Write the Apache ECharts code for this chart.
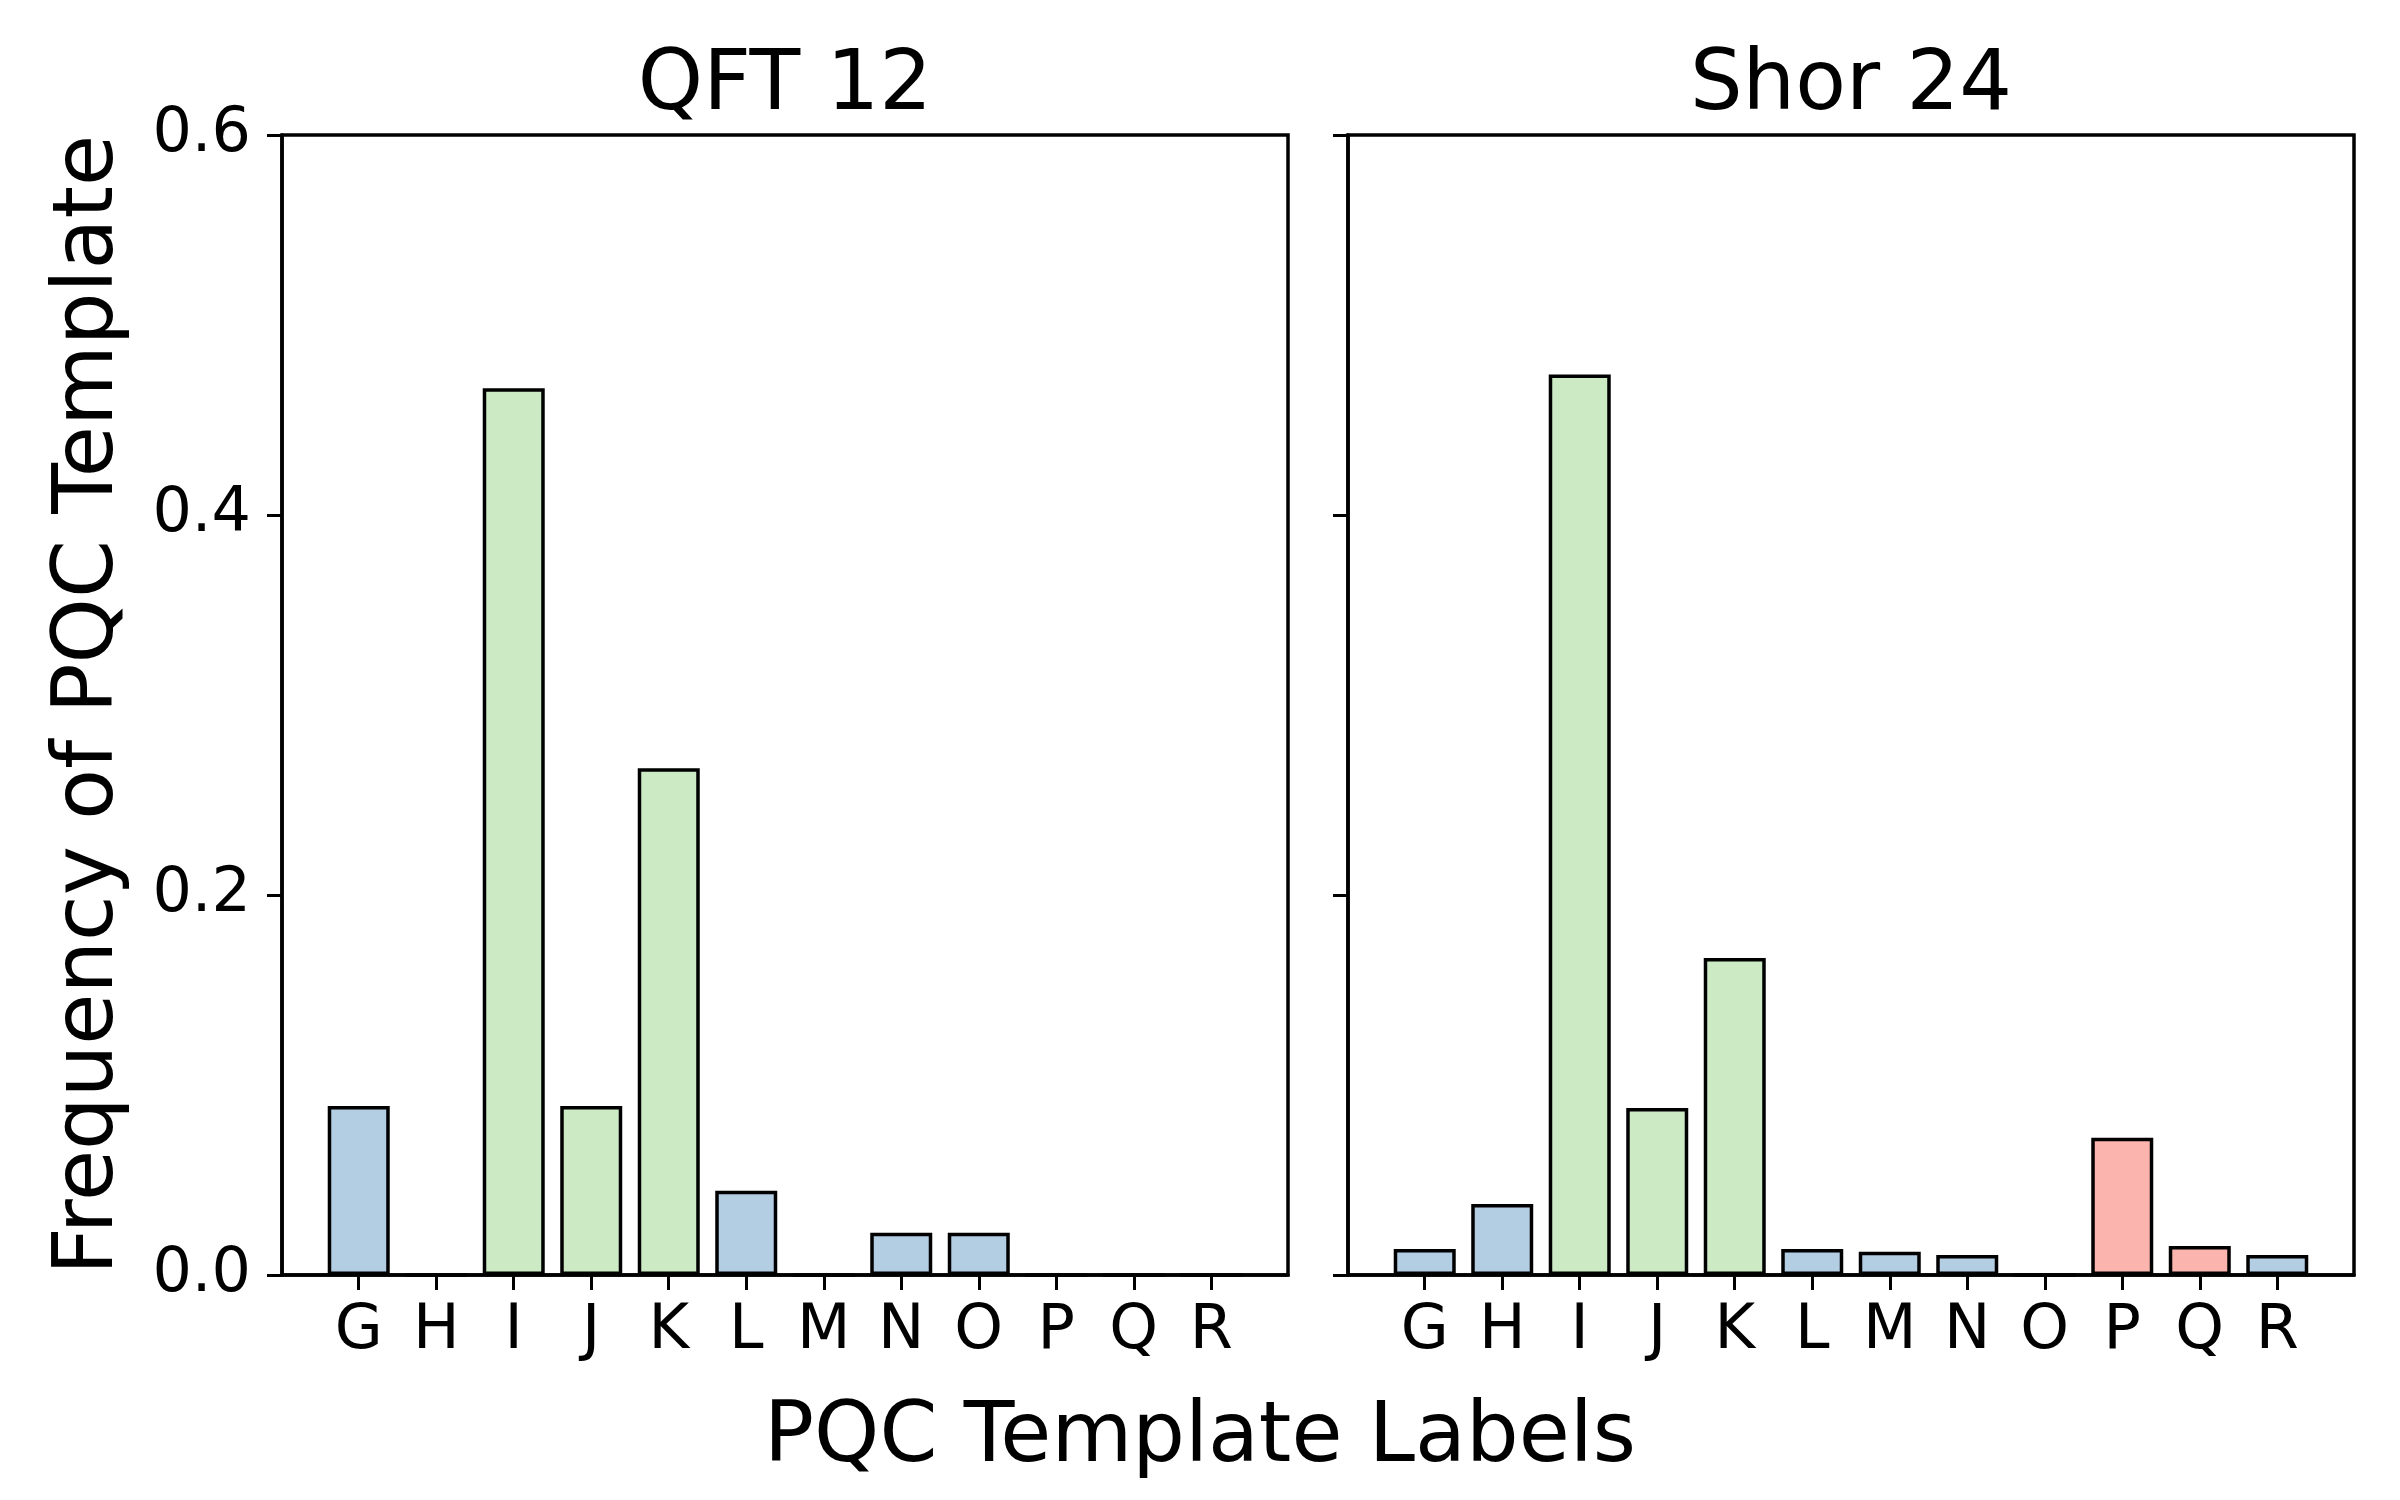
<!DOCTYPE html>
<html>
<head>
<meta charset="utf-8">
<script src="https://cdn.jsdelivr.net/npm/echarts@6/dist/echarts.min.js"></script>
<style>
  html, body { margin: 0; padding: 0; background: #fff; }
  #chart { width: 2400px; height: 1500px; }
</style>
</head>
<body>
<div id="chart"></div>
<script>
var templates = ['G', 'H', 'I', 'J', 'K', 'L', 'M', 'N', 'O', 'P', 'Q', 'R']
var qftValues = [0.0889, 0, 0.4667, 0.0889, 0.2667, 0.0444, 0, 0.0222, 0.0222, 0, 0, 0]
var shorValues = [0.0137, 0.0374, 0.474, 0.0879, 0.1668, 0.0137, 0.0123, 0.0105, 0, 0.0723, 0.0153, 0.0105]
var templateColors = ['#b3cde3', '#b3cde3', '#ccebc5', '#ccebc5', '#ccebc5', '#b3cde3',
  '#b3cde3', '#b3cde3', '#b3cde3', '#fbb4ae', '#fbb4ae', '#b3cde3']
var yTicks = [0, 0.2, 0.4, 0.6]

var font = 'DejaVu Sans'
var tickIdx = templates.map(function (t, i) { return i })

function barData (values) {
  return values.map(function (v, i) {
    return { value: [i, v], itemStyle: { color: templateColors[i] } }
  })
}

function xAxisFor (gridIndex) {
  return {
    type: 'value',
    gridIndex: gridIndex,
    min: -0.99,
    max: 11.99,
    splitLine: { show: false },
    axisLine: { show: true, onZero: false, lineStyle: { color: '#000', width: 3.5 } },
    axisTick: { show: true, customValues: tickIdx, length: 15, lineStyle: { color: '#000', width: 3 } },
    axisLabel: {
      customValues: tickIdx,
      formatter: function (v) { return templates[Math.round(v)] },
      margin: 25,
      fontFamily: font,
      fontSize: 62,
      lineHeight: 63,
      color: '#000'
    }
  }
}

function yAxisFor (gridIndex, withLabels) {
  var ax = {
    type: 'value',
    gridIndex: gridIndex,
    min: yTicks[0],
    max: yTicks[yTicks.length - 1],
    interval: 0.2,
    splitLine: { show: false },
    axisLine: { show: true, onZero: false, lineStyle: { color: '#000', width: 3.5 } },
    axisTick: { show: true, length: 15, lineStyle: { color: '#000', width: 3 } },
    axisLabel: {
      show: withLabels,
      formatter: function (v) { return v.toFixed(1) },
      margin: 31,
      fontFamily: font,
      fontSize: 62,
      color: '#000'
    }
  }
  if (withLabels) {
    ax.name = 'Frequency of PQC Template'
    ax.nameLocation = 'middle'
    ax.nameGap = 150
    ax.nameTextStyle = { fontFamily: font, fontSize: 83, color: '#000' }
  }
  return ax
}

var myChart = echarts.init(document.getElementById('chart'))
var titleStyle = { fontFamily: font, fontSize: 83, lineHeight: 83, fontWeight: 'normal', color: '#000' }
var option = {
  backgroundColor: '#fff',
  animation: false,
  title: [
    { text: 'QFT 12', left: 785, top: 46, textAlign: 'center', padding: 0, textStyle: titleStyle },
    { text: 'Shor 24', left: 1851, top: 46, textAlign: 'center', padding: 0, textStyle: titleStyle },
    { text: 'PQC Template Labels', left: 1200, top: 1398, textAlign: 'center', padding: 0, textStyle: titleStyle }
  ],
  grid: [
    { left: 282, top: 135, width: 1006, height: 1140, show: true, borderColor: '#000', borderWidth: 3.5 },
    { left: 1348, top: 135, width: 1006, height: 1140, show: true, borderColor: '#000', borderWidth: 3.5 }
  ],
  xAxis: [xAxisFor(0), xAxisFor(1)],
  yAxis: [yAxisFor(0, true), yAxisFor(1, false)],
  series: [
    {
      type: 'bar',
      xAxisIndex: 0,
      yAxisIndex: 0,
      barWidth: 62,
      data: barData(qftValues),
      itemStyle: { borderColor: '#000', borderWidth: 3.5 }
    },
    {
      type: 'bar',
      xAxisIndex: 1,
      yAxisIndex: 1,
      barWidth: 62,
      data: barData(shorValues),
      itemStyle: { borderColor: '#000', borderWidth: 3.5 }
    }
  ]
}
myChart.setOption(option)
</script>
</body>
</html>
